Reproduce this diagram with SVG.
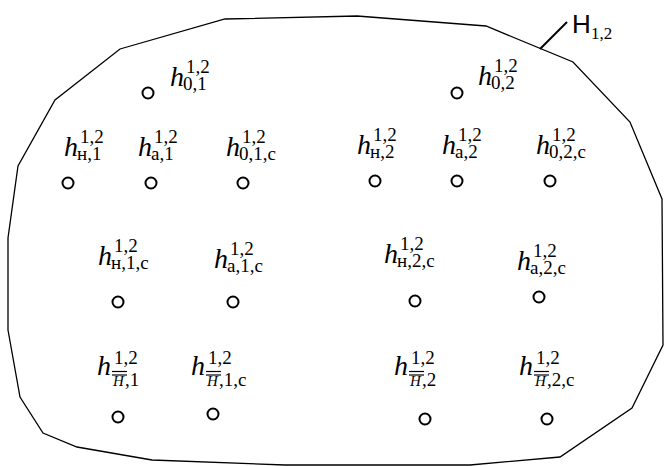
<svg xmlns="http://www.w3.org/2000/svg" width="664" height="466" viewBox="0 0 664 466">
<style>
.h{font-family:"Liberation Serif","Times New Roman",serif;font-style:italic;font-size:28px;fill:#000}
.s{font-family:"Liberation Serif","Times New Roman",serif;font-size:19px;fill:#000}
.hi{font-family:"Liberation Serif","Times New Roman",serif;font-style:italic;font-size:15px;fill:#000}
.pt{fill:none;stroke:#000;stroke-width:2}
.ol{stroke:#000;stroke-width:1.2}
</style>
<rect width="664" height="466" fill="#fff"/>
<g id="region">
<path d="M120,49 L225,19 L357,16 L486,26 L573,62 L630,122 L662,199 L663,345 L632,408 L560,457 L470,465 L285,465 L152,460 L77,447 L43,433 L20,397 L8,330 L8,238 L18,166 L55,100 Z" fill="none" stroke="#000" stroke-width="1.3"/>
</g>
<g id="connectors">
<line x1="540" y1="49" x2="567" y2="22" stroke="#000" stroke-width="2"/>
</g>
<g id="label-H12">
<text x="572" y="33" font-family="Liberation Sans, Arial, sans-serif" font-size="26">H</text>
<text x="591" y="39" class="s" style="font-size:17px">1,2</text>
</g>
<g id="n-0-1"><circle class="pt" cx="148" cy="93" r="5.5"/><text class="h" x="170" y="86">h</text><text class="s" x="186" y="73">1,2</text><text class="s" x="183" y="90">0,1</text></g>
<g id="n-H-1"><circle class="pt" cx="68" cy="183" r="5.5"/><text class="h" x="64" y="156">h</text><text class="s" x="80" y="143">1,2</text><text class="s" x="77" y="160">н,1</text></g>
<g id="n-a-1"><circle class="pt" cx="151" cy="183" r="5.5"/><text class="h" x="138" y="156">h</text><text class="s" x="154" y="143">1,2</text><text class="s" x="151" y="160">a,1</text></g>
<g id="n-0-1-c"><circle class="pt" cx="243" cy="183" r="5.5"/><text class="h" x="226" y="156">h</text><text class="s" x="242" y="143">1,2</text><text class="s" x="239" y="160">0,1,c</text></g>
<g id="n-0-2"><circle class="pt" cx="457" cy="93" r="5.5"/><text class="h" x="478" y="85">h</text><text class="s" x="494" y="72">1,2</text><text class="s" x="491" y="89">0,2</text></g>
<g id="n-H-2"><circle class="pt" cx="375" cy="181" r="5.5"/><text class="h" x="357" y="154">h</text><text class="s" x="373" y="141">1,2</text><text class="s" x="370" y="158">н,2</text></g>
<g id="n-a-2"><circle class="pt" cx="457" cy="181" r="5.5"/><text class="h" x="442" y="154">h</text><text class="s" x="458" y="141">1,2</text><text class="s" x="455" y="158">a,2</text></g>
<g id="n-0-2-c"><circle class="pt" cx="550" cy="181" r="5.5"/><text class="h" x="536" y="154">h</text><text class="s" x="552" y="141">1,2</text><text class="s" x="549" y="158">0,2,c</text></g>
<g id="n-H-1-c"><circle class="pt" cx="118" cy="302" r="5.5"/><text class="h" x="98" y="265">h</text><text class="s" x="114" y="252">1,2</text><text class="s" x="111" y="269">н,1,c</text></g>
<g id="n-a-1-c"><circle class="pt" cx="233" cy="302" r="5.5"/><text class="h" x="214" y="268">h</text><text class="s" x="230" y="255">1,2</text><text class="s" x="227" y="272">a,1,c</text></g>
<g id="n-H-2-c"><circle class="pt" cx="415" cy="301" r="5.5"/><text class="h" x="384" y="263">h</text><text class="s" x="400" y="250">1,2</text><text class="s" x="397" y="267">н,2,c</text></g>
<g id="n-a-2-c"><circle class="pt" cx="539" cy="297" r="5.5"/><text class="h" x="517" y="270">h</text><text class="s" x="533" y="257">1,2</text><text class="s" x="530" y="274">a,2,c</text></g>
<g id="n-Hb-1"><circle class="pt" cx="118" cy="417" r="5.5"/><text class="h" x="97" y="375">h</text><text class="s" x="114" y="364">1,2</text><text class="hi" x="113" y="386">H</text><line class="ol" x1="112" y1="371.5" x2="127" y2="371.5"/><line class="ol" x1="112" y1="375" x2="127" y2="375"/><text class="s" x="125" y="386">,1</text></g>
<g id="n-Hb-1-c"><circle class="pt" cx="213" cy="414" r="5.5"/><text class="h" x="191" y="375">h</text><text class="s" x="208" y="364">1,2</text><text class="hi" x="207" y="386">H</text><line class="ol" x1="206" y1="371.5" x2="221" y2="371.5"/><line class="ol" x1="206" y1="375" x2="221" y2="375"/><text class="s" x="219" y="386">,1,c</text></g>
<g id="n-Hb-2"><circle class="pt" cx="425" cy="419" r="5.5"/><text class="h" x="394" y="375">h</text><text class="s" x="411" y="364">1,2</text><text class="hi" x="410" y="386">H</text><line class="ol" x1="409" y1="371.5" x2="424" y2="371.5"/><line class="ol" x1="409" y1="375" x2="424" y2="375"/><text class="s" x="422" y="386">,2</text></g>
<g id="n-Hb-2-c"><circle class="pt" cx="547" cy="419" r="5.5"/><text class="h" x="519" y="375">h</text><text class="s" x="536" y="364">1,2</text><text class="hi" x="535" y="386">H</text><line class="ol" x1="534" y1="371.5" x2="549" y2="371.5"/><line class="ol" x1="534" y1="375" x2="549" y2="375"/><text class="s" x="547" y="386">,2,c</text></g>
</svg>
